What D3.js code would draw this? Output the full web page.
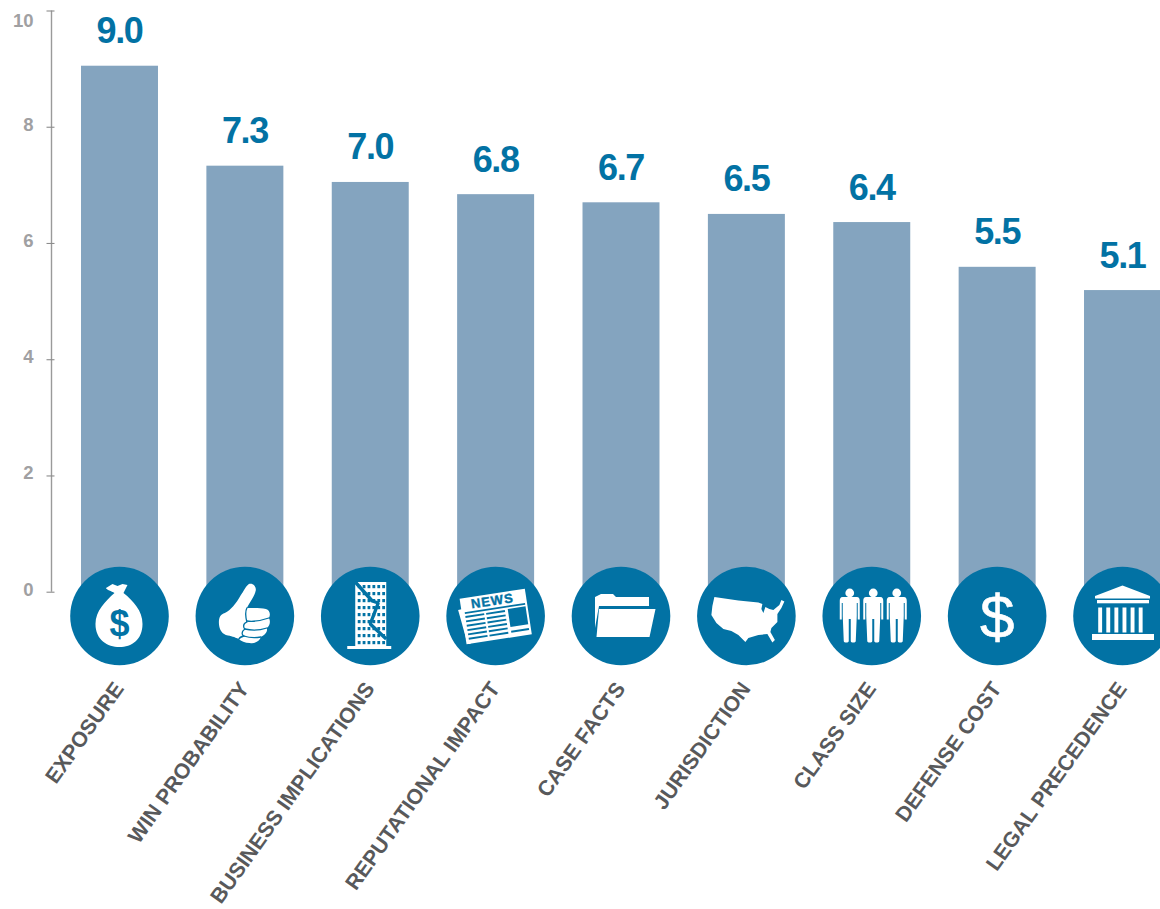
<!DOCTYPE html>
<html><head><meta charset="utf-8">
<style>html,body{margin:0;padding:0;background:#fff}svg{display:block}text{font-family:"Liberation Sans",Arial,sans-serif}</style>
<script src="https://cdn.jsdelivr.net/npm/d3@7"></script>
</head><body><svg id="c" width="1160" height="909"></svg>
<script>
const categories = ["EXPOSURE","WIN PROBABILITY","BUSINESS IMPLICATIONS","REPUTATIONAL IMPACT","CASE FACTS","JURISDICTION","CLASS SIZE","DEFENSE COST","LEGAL PRECEDENCE"];
const barValues = [9.05,7.33,7.05,6.84,6.70,6.50,6.36,5.59,5.19];
const valueLabels = ["9.0","7.3","7.0","6.8","6.7","6.5","6.4","5.5","5.1"];
const icons = ["bag","thumb","building","news","folder","usa","people","dollar","bank"];
const yTicks = [0,2,4,6,8,10];

const BLUE="#0272A4", BAR="#84A4BF", GREY="#A0A0A2", DARK="#58595B";
const svg=d3.select("#c");
const x=d3.scaleBand().domain(categories).range([81,1161]).paddingInner(0.386).paddingOuter(0);
const y=d3.scaleLinear().domain([0,10]).range([591.7,10.5]);
const cx=d=>x(d)+x.bandwidth()/2;
const circleY=616, R=49.3;

// axis
const axis=svg.append("g").attr("transform","translate(51.5,0)")
  .call(d3.axisLeft(y).tickValues(yTicks).tickSize(5).tickFormat(d3.format("d")));
axis.select(".domain").attr("stroke","#9A9A9A").attr("stroke-width",1.4).attr("d",`M0,${y(10)}V${y(0)}`);
axis.selectAll(".tick line").attr("stroke","#8C8C8C").attr("stroke-width",1.1).attr("x1",-5).attr("x2",3);
axis.selectAll(".tick text").attr("x",-18).attr("dy","0.35em")
  .attr("y",d=>d===10?9.5:-3)
  .attr("fill",GREY).attr("font-size",18.5).attr("font-weight","bold").attr("text-anchor","end").style("font-family",'"Liberation Sans",Arial,sans-serif');

// bars
svg.append("g").selectAll("rect").data(categories).join("rect")
  .attr("x",d=>x(d)).attr("width",x.bandwidth())
  .attr("y",(d,i)=>y(barValues[i])).attr("height",(d,i)=>y(0)-y(barValues[i]))
  .attr("fill",BAR);

// value labels
svg.append("g").selectAll("text").data(categories).join("text")
  .attr("x",cx).attr("y",(d,i)=>y(barValues[i])-22.5)
  .attr("text-anchor","middle").attr("font-weight","bold").attr("font-size",36).attr("letter-spacing",-1.4)
  .attr("fill",BLUE).text((d,i)=>valueLabels[i]);

// icon glyphs, in coordinates local to each circle's centre
const draw={
 bag(g){
  g.append("path").attr("fill","#fff").attr("d","M-5,-23C-8,-25-13,-26-13.5,-28L-7,-32L-2,-30L3,-32L8,-31L4,-23C14,-15 23,-5 23,8C23,24 12,31 0,31C-12,31-24,24-24,8C-24,-5-14,-15-5,-23Z");
  g.append("text").attr("x",0).attr("y",20).attr("text-anchor","middle").attr("font-size",36).attr("font-weight","bold").attr("fill",BLUE).text("$");
 },
 thumb(g){
  g.append("path").attr("fill","#fff").attr("d","M4,-32C8,-33 11,-30 11,-26C10,-20 5,-14 2,-8C8,-8 16,-8 21,-7C25,-6 26,-1 24,2C26,5 25,10 22,12C23,16 20,19 16,21C15,25 10,28 5,27C0,27-4,25-6,23C-11,21-13,20-19,19C-24,17-26,12-26,6C-26,1-24,-2-20,-3C-14,-6-9,-12-4,-21C-1,-25 1,-30 4,-32Z");
  const f=g.append("g").attr("fill","none").attr("stroke",BLUE).attr("stroke-width",1.3).attr("stroke-linecap","round");
  f.append("path").attr("d","M2,-8C0,-4 1,2 2,6C-3,8-1,12 0,13C-4,16-3,19-1,20C-5,21-6,23-6,23");
  f.append("path").attr("d","M2,5C9,6 18,4 24,2");
  f.append("path").attr("d","M0,13C8,15 16,14 22,12");
  f.append("path").attr("d","M-1,20C5,22 11,22 16,21");
 },
 building(g){
  g.append("rect").attr("x",-15).attr("y",-34).attr("width",31).attr("height",65).attr("fill","#fff");
  g.append("rect").attr("x",-23).attr("y",30).attr("width",44).attr("height",3).attr("fill","#fff");
  const wx=d3.range(6).map(i=>-12.5+i*4.9), wy=d3.range(9).map(i=>-31+i*7);
  wy.forEach(v=>wx.forEach(u=>g.append("rect").attr("x",u).attr("y",v).attr("width",2.8).attr("height",3.2).attr("fill",BLUE)));
  g.append("path").attr("fill","none").attr("stroke",BLUE).attr("stroke-width",3.4).attr("stroke-linejoin","bevel")
   .attr("d","M-15,-34L2,-15L8,-13L0,8L16,23");
 },
 news(g){
  g.append("path").attr("fill","#fff").attr("d","M-37.5,-6L-33,-7L-25,28L-28,28Z");
  const p=g.append("g").attr("transform","rotate(-8.7)");
  p.append("rect").attr("x",-33).attr("y",-22.5).attr("width",66).attr("height",46).attr("fill","#fff");
  p.append("text").attr("x",-1).attr("y",-11).attr("text-anchor","middle").attr("font-size",13).attr("font-weight","900").attr("letter-spacing",1).attr("stroke",BLUE).attr("stroke-width",0.4).attr("fill",BLUE).text("NEWS");
  p.append("rect").attr("x",-30).attr("y",-8.5).attr("width",61).attr("height",1.8).attr("fill",BLUE);
  p.append("rect").attr("x",13).attr("y",-5).attr("width",18).attr("height",18).attr("fill",BLUE);
  d3.range(6).forEach(i=>{
   p.append("rect").attr("x",-30).attr("y",-4.5+i*4.4).attr("width",19).attr("height",1.9).attr("fill",BLUE);
   p.append("rect").attr("x",-9).attr("y",-4.5+i*4.4).attr("width",19).attr("height",1.9).attr("fill",BLUE);
  });
  p.append("rect").attr("x",13).attr("y",17).attr("width",18).attr("height",1.9).attr("fill",BLUE);
 },
 folder(g){
  g.append("path").attr("fill","#fff").attr("d","M-26,12V-19L-20,-22H-8L-5,-19H28V-10H-22Z");
  g.append("path").attr("fill","#fff").attr("d","M-22,-7H34.5L28.5,21H-24.5Z");
 },
 usa(g){
  g.append("path").attr("fill","#fff").attr("d","M-32,-19L-8,-15.5L12,-13.5L16,-12L15,-7L17,-3L19,-9L23,-7L27,-6L33,-11L35,-16L38,-14.5L35,-8L31,-2L31,6L25,12L24,16L28.5,24L26,26.5L21,18L12,19L2,22L-1,26L-8,19L-15,15L-23,13L-30,7L-35,-1L-34,-10Z");
 },
 people(g){
  const personD="M-7,-19H7C9.5,-19 10,-17 10,-15V3.5H8V-13H7V0L6,25C6,27 1,27 1,25V3H-1V25C-1,27-6,27-6,25L-7,0V-13H-8V3.5H-10V-15C-10,-17-9.5,-19-7,-19Z";
  [-22,1.5,25].forEach(o=>{
   const p=g.append("g").attr("transform",`translate(${o},0)`).attr("fill","#fff");
   p.append("circle").attr("cx",0).attr("cy",-23).attr("r",4.4);
   p.append("path").attr("d",personD);
  });
 },
 dollar(g){
  g.append("text").attr("x",0).attr("y",22).attr("text-anchor","middle").attr("font-size",62).attr("font-weight","400").attr("stroke","#fff").attr("stroke-width",0.6).attr("fill","#fff").text("$");
 },
 bank(g){
  g.append("path").attr("fill","#fff").attr("d","M-27.5,-20L0,-30.5L27.5,-20V-17.5H-27.5Z");
  g.append("rect").attr("x",-25.5).attr("y",-16).attr("width",52).attr("height",3.3).attr("fill","#fff");
  d3.range(6).forEach(i=>g.append("rect").attr("x",-24.3+i*8.1).attr("y",-8.5).attr("width",3.9).attr("height",25).attr("fill","#fff"));
  g.append("rect").attr("x",-30.5).attr("y",18).attr("width",62).attr("height",6).attr("fill","#fff");
 }
};

const ig=svg.append("g").selectAll("g").data(categories).join("g")
  .attr("transform",d=>`translate(${cx(d)},${circleY})`);
ig.append("circle").attr("r",R).attr("fill",BLUE);
ig.each(function(d,i){draw[icons[i]](d3.select(this));});

// category labels
svg.append("g").selectAll("text").data(categories).join("text")
  .attr("transform",d=>`translate(${cx(d)-7},680) rotate(-54.5)`)
  .attr("text-anchor","end").attr("font-size",21.3).attr("font-weight","bold").attr("fill",DARK).attr("dy","0.7em").text(d=>d);
</script></body></html>
